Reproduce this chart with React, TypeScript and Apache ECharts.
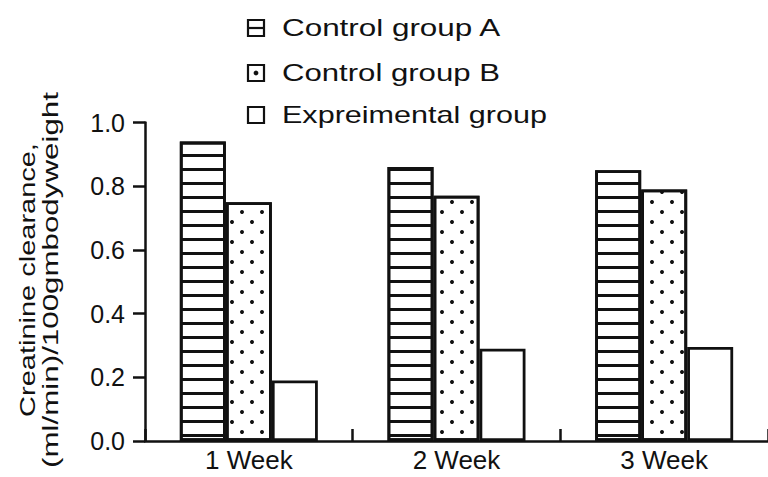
import React, { useEffect, useRef } from "react";
import * as echarts from "echarts";

const categories = ["1 Week", "2 Week", "3 Week"];
const seriesNames = ["Control group A", "Control group B", "Expreimental group"];
const controlA = [0.94, 0.86, 0.85];
const controlB = [0.75, 0.77, 0.79];
const experimental = [0.19, 0.29, 0.295];
const yTicks = [0, 0.2, 0.4, 0.6, 0.8, 1.0];
const yNameLines = ["Creatinine clearance,", "(ml/min)/100gmbodyweight"];

const FONT = '"Liberation Sans", Arial, sans-serif';
const INK = "#111";

function measure(text: string, size: number): number {
  const c = document.createElement("canvas");
  const ctx = c.getContext("2d");
  if (!ctx) return text.length * size * 0.5;
  ctx.font = `${size}px "Liberation Sans", Arial, sans-serif`;
  return ctx.measureText(text).width;
}

export default function App() {
  const ref = useRef<HTMLDivElement>(null);
  useEffect(() => {
    if (!ref.current) return;
    const chart = echarts.init(ref.current, undefined, { renderer: "svg" });

    const legendSize = 23;
    const legendWidths = [220, 218, 265];
    const legendY = [28, 73, 115];
    const nameSize = 22;
    const nameWidths = [274, 376];
    const nameX = [27, 51];

    const graphics: any[] = [];
    legendY.forEach((cy, i) => {
      graphics.push({
        type: "rect",
        shape: { x: 248, y: cy - 8, width: 16, height: 16 },
        style: { fill: "#fff", stroke: INK, lineWidth: 2.2 },
      });
      if (i === 0) {
        graphics.push({
          type: "line",
          shape: { x1: 248, y1: cy, x2: 264, y2: cy },
          style: { stroke: INK, lineWidth: 2.2 },
        });
      } else if (i === 1) {
        graphics.push({
          type: "circle",
          shape: { cx: 256, cy: cy, r: 2.4 },
          style: { fill: INK },
        });
      }
      const w = measure(seriesNames[i], legendSize);
      graphics.push({
        type: "text",
        x: 282,
        y: cy,
        scaleX: legendWidths[i] / w,
        style: {
          text: seriesNames[i],
          font: `${legendSize}px ${FONT}`,
          fill: INK,
          align: "left",
          verticalAlign: "middle",
        },
      });
    });
    yNameLines.forEach((t, i) => {
      const w = measure(t, nameSize);
      graphics.push({
        type: "text",
        x: nameX[i],
        y: 280,
        rotation: Math.PI / 2,
        scaleX: nameWidths[i] / w,
        style: {
          text: t,
          font: `${nameSize}px ${FONT}`,
          fill: INK,
          align: "center",
          verticalAlign: "middle",
        },
      });
    });

    const border = { borderColor: INK, borderWidth: 2.8 };

    chart.setOption({
      animation: false,
      backgroundColor: "#fff",
      grid: { left: 145, right: 0, top: 122.5, bottom: 36, containLabel: false },
      xAxis: {
        type: "category",
        data: categories,
        axisLine: { lineStyle: { color: INK, width: 2.5 } },
        axisTick: { show: true, inside: true, length: 12, lineStyle: { color: INK, width: 2.5 } },
        axisLabel: { fontSize: 26, fontFamily: FONT, color: INK, margin: 6 },
      },
      yAxis: {
        type: "value",
        min: 0,
        max: 1,
        interval: 0.2,
        splitLine: { show: false },
        axisLine: { show: true, lineStyle: { color: INK, width: 2.5 } },
        axisTick: { show: true, length: 12, lineStyle: { color: INK, width: 2.5 } },
        axisLabel: {
          fontSize: 25,
          fontFamily: FONT,
          color: INK,
          margin: 20,
          formatter: (v: number) => (yTicks.indexOf(v) >= 0 ? v.toFixed(1) : ""),
        },
      },
      series: [
        {
          name: seriesNames[0],
          type: "bar",
          data: controlA,
          barWidth: 46,
          barGap: "0%",
          itemStyle: {
            color: "#fff",
            ...border,
            decal: {
              symbol: "rect",
              symbolSize: 1,
              color: INK,
              dashArrayX: [10, 0],
              dashArrayY: [3, 11],
              rotation: 0,
            },
          },
        },
        {
          name: seriesNames[1],
          type: "bar",
          data: controlB,
          barWidth: 46,
          barGap: "0%",
          itemStyle: {
            color: "#fff",
            ...border,
            decal: {
              symbol: "circle",
              symbolSize: 1,
              color: INK,
              dashArrayX: [
                [4, 16],
                [0, 10, 4, 6],
              ],
              dashArrayY: [4, 6],
              rotation: 0,
            },
          },
        },
        {
          name: seriesNames[2],
          type: "bar",
          data: experimental,
          barWidth: 46,
          barGap: "0%",
          itemStyle: { color: "#fff", ...border },
        },
      ],
      graphic: graphics,
    });
    return () => chart.dispose();
  }, []);
  return (
    <div
      ref={ref}
      style={{ position: "fixed", left: 0, top: 0, width: 768, height: 477, background: "#fff" }}
    />
  );
}
